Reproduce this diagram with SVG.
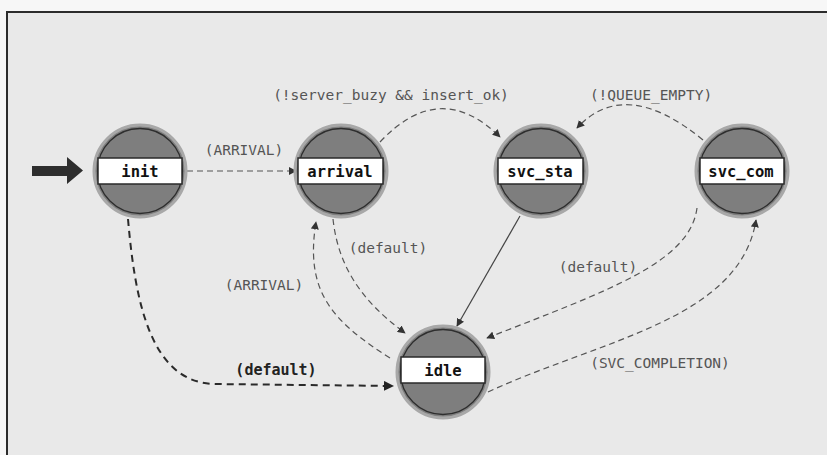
<svg xmlns="http://www.w3.org/2000/svg" width="827" height="455" viewBox="0 0 827 455">
<style>
.node-bg{fill:#7e7e7e;stroke:#a8a8a8;stroke-width:3}
.node-ring{fill:none;stroke:#2e2e2e;stroke-width:1.3}
.node-box{fill:#ffffff;stroke:#2a2a2a;stroke-width:1.5}
.node-label{font-family:"DejaVu Sans Mono","Liberation Mono",monospace;font-size:15.5px;font-weight:bold;fill:#111;text-anchor:middle}
.edge{fill:none;stroke:#555;stroke-width:1.2;stroke-dasharray:6 4}
.edge-solid{fill:none;stroke:#444;stroke-width:1.2}
.edge-strong{fill:none;stroke:#2a2a2a;stroke-width:2;stroke-dasharray:7 5}
.elabel{font-family:"DejaVu Sans Mono","Liberation Mono",monospace;font-size:14.5px;fill:#555;text-anchor:middle}
.elabel-strong{font-family:"DejaVu Sans Mono","Liberation Mono",monospace;font-size:15px;font-weight:bold;fill:#222;text-anchor:middle}
</style>
<defs>
<marker id="ah" viewBox="0 0 10 10" refX="9" refY="5" markerWidth="8" markerHeight="8" markerUnits="userSpaceOnUse" orient="auto">
<path d="M0,0 L10,5 L0,10 z" fill="#333"/>
</marker>
<marker id="ahs" viewBox="0 0 10 10" refX="9" refY="5" markerWidth="10" markerHeight="10" markerUnits="userSpaceOnUse" orient="auto">
<path d="M0,0 L10,5 L0,10 z" fill="#222"/>
</marker>
</defs>
<rect x="0" y="0" width="827" height="455" fill="#f7f7f7"/>
<rect x="7" y="12" width="830" height="460" fill="#e9e9e9" stroke="#2c2c2c" stroke-width="2"/>

<g id="entry">
<path d="M32,166 L67,166 L67,157 L83,170.5 L67,184 L67,176 L32,176 z" fill="#2e2e2e"/>
</g>

<g id="connectors">
<path class="edge" d="M187,171 L296,171" marker-end="url(#ah)"/>
<path class="edge" d="M380,142 Q440,78 500,137" marker-end="url(#ah)"/>
<path class="edge" d="M703,140 Q625,76 577,128" marker-end="url(#ah)"/>
<path class="edge-solid" d="M520,216 L457,326" marker-end="url(#ah)"/>
<path class="edge" d="M333,219 C338,265 360,300 405,333" marker-end="url(#ah)"/>
<path class="edge" d="M390,358 C330,320 305,290 316,222" marker-end="url(#ah)"/>
<path class="edge-strong" d="M128,219 C135,300 150,383 215,384 L393,386" marker-end="url(#ahs)"/>
<path class="edge" d="M697,208 C690,262 610,290 487,338" marker-end="url(#ah)"/>
<path class="edge" d="M488,392 C600,340 740,320 756,220" marker-end="url(#ah)"/>
<text class="elabel" x="244" y="155">(ARRIVAL)</text>
<text class="elabel" x="391" y="100">(!server_buzy &amp;&amp; insert_ok)</text>
<text class="elabel" x="651" y="100">(!QUEUE_EMPTY)</text>
<text class="elabel" x="388" y="253">(default)</text>
<text class="elabel" x="264" y="290">(ARRIVAL)</text>
<text class="elabel" x="598" y="272">(default)</text>
<text class="elabel-strong" x="276" y="375">(default)</text>
<text class="elabel" x="660" y="368">(SVC_COMPLETION)</text>
</g>

<g id="init">
<circle class="node-bg" cx="140" cy="171" r="46"/>
<circle class="node-ring" cx="140" cy="171" r="42.5"/>
<rect class="node-box" x="98" y="158" width="84" height="26"/>
<text class="node-label" x="140" y="177">init</text>
</g>
<g id="arrival">
<circle class="node-bg" cx="341" cy="171" r="46"/>
<circle class="node-ring" cx="341" cy="171" r="42.5"/>
<rect class="node-box" x="298" y="158" width="85" height="26"/>
<text class="node-label" x="340" y="177">arrival</text>
</g>
<g id="svc_sta">
<circle class="node-bg" cx="541" cy="171" r="46"/>
<circle class="node-ring" cx="541" cy="171" r="42.5"/>
<rect class="node-box" x="498" y="158" width="85" height="26"/>
<text class="node-label" x="540" y="177">svc_sta</text>
</g>
<g id="svc_com">
<circle class="node-bg" cx="742" cy="171" r="46"/>
<circle class="node-ring" cx="742" cy="171" r="42.5"/>
<rect class="node-box" x="700" y="158" width="84" height="26"/>
<text class="node-label" x="741" y="177">svc_com</text>
</g>
<g id="idle">
<circle class="node-bg" cx="443" cy="372" r="46"/>
<circle class="node-ring" cx="443" cy="372" r="42.5"/>
<rect class="node-box" x="401" y="357" width="84" height="26"/>
<text class="node-label" x="443" y="376">idle</text>
</g>
</svg>
